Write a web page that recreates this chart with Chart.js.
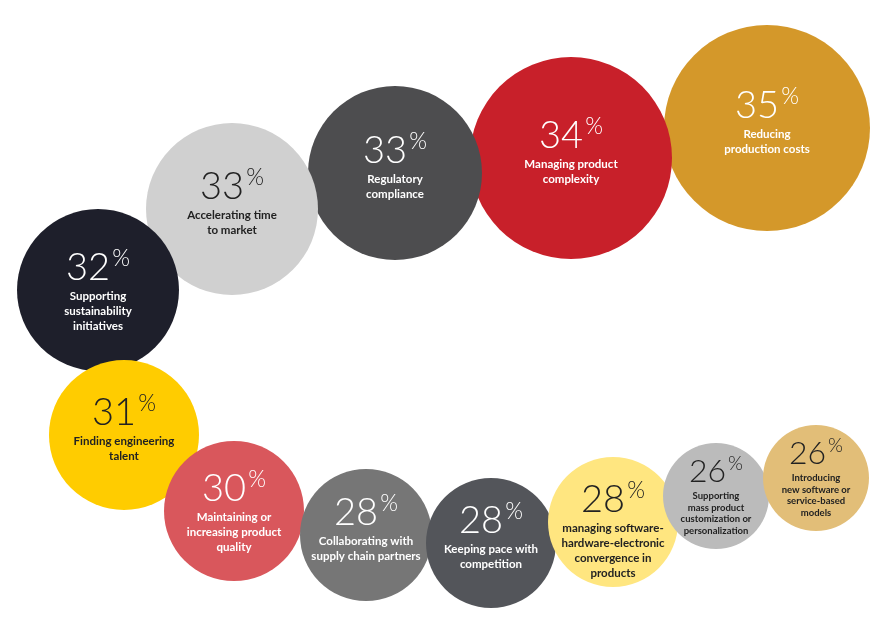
<!DOCTYPE html>
<html><head><meta charset="utf-8">
<script src="https://cdn.jsdelivr.net/npm/chart.js@4/dist/chart.umd.min.js"></script>
<style>html,body{margin:0;padding:0;background:#fff}#w{width:890px;height:627px}</style>
</head><body><div id="w"><canvas id="c"></canvas></div>
<script>
const categories = [
  ["Reducing","production costs"],
  ["Managing product","complexity"],
  ["Regulatory","compliance"],
  ["Accelerating time","to market"],
  ["Supporting","sustainability","initiatives"],
  ["Finding engineering","talent"],
  ["Maintaining or","increasing product","quality"],
  ["Collaborating with","supply chain partners"],
  ["Keeping pace with","competition"],
  ["managing software-","hardware-electronic","convergence in","products"],
  ["Supporting","mass product","customization or","personalization"],
  ["Introducing","new software or","service-based","models"]
];
const values = [35,34,33,33,32,31,30,28,28,28,26,26];
const xPos = [767,571,395,232,98,124,234,366,491,613,716,816];
const yPos = [128,158,173,209,290,435,511,535,543,522,496,478];
const radii = [103,101,87,86,81,75,70,66,65,65,53,53];
const colors = ["#D4982A","#C8202A","#4D4D4F","#D0D0D0","#1E1F2B","#FFCC00","#D9575C","#767676","#53555A","#FFE680","#BBBBBB","#E2BE78"];
const textColors = ["#fff","#fff","#fff","#222","#fff","#222","#fff","#fff","#fff","#222","#222","#222"];

const labelPlugin = {
  id:'labels',
  afterDatasetsDraw(chart){
    const ctx = chart.ctx, meta = chart.getDatasetMeta(0);
    meta.data.forEach((el,i)=>{
      const {x,y} = el.getProps(['x','y'],true);
      const r = radii[i], small = r < 60;
      const numSize = small ? 32 : 38;
      const numY = y - (small ? 24 : 22);
      ctx.save();
      ctx.fillStyle = textColors[i];
      ctx.textBaseline = 'middle';
      const num = String(values[i]);
      ctx.font = `300 ${numSize}px Lato`;
      const nw = ctx.measureText(num).width;
      ctx.font = `300 ${numSize*0.6}px Lato`;
      const pw = ctx.measureText('%').width;
      const sx = x - (nw+pw+2)/2;
      ctx.textAlign = 'left';
      ctx.font = `300 ${numSize}px Lato`;
      ctx.fillText(num, sx, numY);
      ctx.font = `300 ${numSize*0.6}px Lato`;
      ctx.fillText('%', sx+nw+2, numY - numSize*0.25);
      ctx.textAlign = 'center';
      const fs = small ? 9.5 : 11.5, step = small ? 11.5 : 15;
      ctx.font = `bold ${fs}px Lato`;
      let ly = y + (small ? 0 : 6);
      categories[i].forEach(line=>{ ctx.fillText(line, x, ly); ly += step; });
      ctx.restore();
    });
  }
};

new Chart(document.getElementById('c'), {
  type:'bubble',
  data:{datasets:[{
    data: values.map((v,i)=>({x:xPos[i], y:yPos[i], r:radii[i]})),
    backgroundColor: colors, borderWidth:0, hoverBorderWidth:0
  }]},
  options:{
    responsive:true, maintainAspectRatio:false, animation:false,
    layout:{padding:0, autoPadding:false},
    plugins:{legend:{display:false},tooltip:{enabled:false}},
    scales:{
      x:{type:'linear',min:0,max:890,display:false},
      y:{type:'linear',min:0,max:627,reverse:true,display:false}
    },
    clip:false
  },
  plugins:[labelPlugin]
});
</script></body></html>
